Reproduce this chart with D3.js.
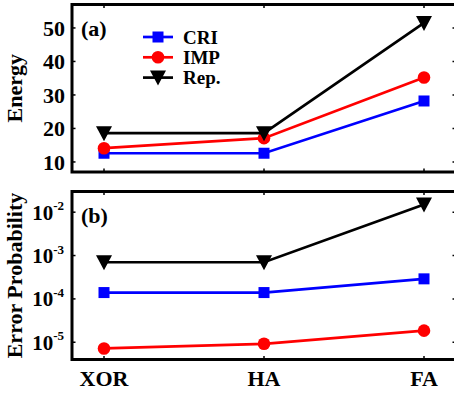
<!DOCTYPE html>
<meta charset="utf-8">
<head>
    <script src="https://d3js.org/d3.v7.min.js"></script>
</head>
<style>
    body { margin: 0; background: white; }
    text { font-family: 'Liberation Serif', 'Times New Roman', serif; font-weight: bold; fill: black; }
    .frame { fill: none; stroke: black; stroke-width: 3px; }
    .tick-mark { stroke: black; stroke-width: 1.5px; }
</style>
<div id="my_dataviz"></div>
<script>

    // categories and values
    var gates = ["XOR", "HA", "FA"];
    var series = ["CRI", "IMP", "Rep."];
    var colors = ["#0000ff", "#ff0000", "#000000"];
    var symbols = ["square", "circle", "triangle"];

    var energyCRI = [12.6, 12.6, 28.2];
    var energyIMP = [14.1, 17.1, 35.2];
    var energyRep = [18.6, 18.6, 51.5];

    var errorCRI = [1.4e-4, 1.4e-4, 2.9e-4];
    var errorIMP = [7.2e-6, 9.2e-6, 1.85e-5];
    var errorRep = [7e-4, 7e-4, 1.5e-2];

    var energyTicks = [10, 20, 30, 40, 50];
    var errorTicks = [1e-5, 1e-4, 1e-3, 1e-2];

    var width = 454, height = 396;

    var svg = d3.select("#my_dataviz")
        .append("svg")
        .attr("width", width)
        .attr("height", height);

    // shared x scale (frame right edge lies just outside the window)
    var x = d3.scaleLinear()
        .domain([0.8, 3.2])
        .range([72, 456]);

    var yTop = d3.scaleLinear()
        .domain([7, 57])
        .range([172, 4.5]);

    var yBot = d3.scaleLog()
        .domain([4e-6, 3e-2])
        .range([359.5, 191.5]);

    function drawMarker(g, type, cx, cy, color) {
        if (type == "square") {
            g.append("rect")
                .attr("x", cx - 5.5).attr("y", cy - 5.5)
                .attr("width", 11).attr("height", 11)
                .style("fill", color);
        } else if (type == "circle") {
            g.append("circle")
                .attr("cx", cx).attr("cy", cy).attr("r", 6.3)
                .style("fill", color);
        } else {
            g.append("path")
                .attr("d", "M" + (cx - 8) + "," + (cy - 7) + "L" + (cx + 8) + "," + (cy - 7) + "L" + cx + "," + (cy + 8) + "Z")
                .style("fill", color);
        }
    }

    function drawPanel(y, data, ticks, isLog, label, tag) {
        var g = svg.append("g");
        var y0 = y.range()[0], y1 = y.range()[1];
        var x0 = x.range()[0], x1 = x.range()[1];

        // inward tick marks on all four sides
        gates.forEach(function(d, i) {
            g.append("line").attr("class", "tick-mark")
                .attr("x1", x(i + 1)).attr("x2", x(i + 1))
                .attr("y1", y0).attr("y2", y0 - 3.5);
            g.append("line").attr("class", "tick-mark")
                .attr("x1", x(i + 1)).attr("x2", x(i + 1))
                .attr("y1", y1).attr("y2", y1 + 3.5);
        });
        ticks.forEach(function(t) {
            g.append("line").attr("class", "tick-mark")
                .attr("x1", x0).attr("x2", x0 + 3.5)
                .attr("y1", y(t)).attr("y2", y(t));
            g.append("line").attr("class", "tick-mark")
                .attr("x1", x1).attr("x2", x1 - 3.5)
                .attr("y1", y(t)).attr("y2", y(t));

            if (isLog) {
                var txt = g.append("text")
                    .attr("text-anchor", "end")
                    .attr("x", 64)
                    .attr("y", y(t) + 7.5)
                    .style("font-size", "21px");
                txt.append("tspan").text("10");
                txt.append("tspan")
                    .attr("dy", -9.5)
                    .style("font-size", "13px")
                    .text("-" + Math.round(-Math.log10(t)));
            } else {
                g.append("text")
                    .attr("text-anchor", "end")
                    .attr("x", 65)
                    .attr("y", y(t))
                    .attr("dy", "0.35em")
                    .style("font-size", "22px")
                    .text(t);
            }
        });

        // lines + markers
        data.forEach(function(vals, s) {
            var line = d3.line()
                .x(function(d, i) { return x(i + 1); })
                .y(function(d) { return y(d); });
            g.append("path")
                .datum(vals)
                .attr("d", line)
                .style("fill", "none")
                .style("stroke", colors[s])
                .style("stroke-width", 2.7);
            vals.forEach(function(v, i) {
                drawMarker(g, symbols[s], x(i + 1), y(v), colors[s]);
            });
        });

        // frame
        g.append("rect")
            .attr("class", "frame")
            .attr("x", x0).attr("y", y1)
            .attr("width", x1 - x0).attr("height", y0 - y1);

        // panel tag
        g.append("text")
            .attr("x", 81)
            .attr("y", y1 + 23.5)
            .attr("dy", "0.35em")
            .style("font-size", "22px")
            .text(tag);

        // y axis label
        g.append("text")
            .attr("text-anchor", "middle")
            .attr("transform", "translate(22," + ((y0 + y1) / 2) + ") rotate(-90)")
            .style("font-size", "22px")
            .text(label);
    }

    drawPanel(yTop, [energyCRI, energyIMP, energyRep], energyTicks, false, "Energy", "(a)");
    drawPanel(yBot, [errorCRI, errorIMP, errorRep], errorTicks, true, "Error Probability", "(b)");

    // x category labels
    svg.selectAll(".xlab")
        .data(gates)
        .enter()
        .append("text")
        .attr("text-anchor", "middle")
        .attr("x", function(d, i) { return x(i + 1); })
        .attr("y", 386)
        .style("font-size", "22px")
        .text(function(d) { return d; });

    // legend
    var legend = svg.append("g");
    series.forEach(function(name, s) {
        var ly = 37 + s * 20.3;
        legend.append("line")
            .attr("x1", 143).attr("x2", 173)
            .attr("y1", ly).attr("y2", ly)
            .style("stroke", colors[s])
            .style("stroke-width", 2.7);
        drawMarker(legend, symbols[s], 158, ly, colors[s]);
        legend.append("text")
            .attr("x", 183)
            .attr("y", ly)
            .attr("dy", "0.35em")
            .style("font-size", "19px")
            .text(name);
    });

</script>
